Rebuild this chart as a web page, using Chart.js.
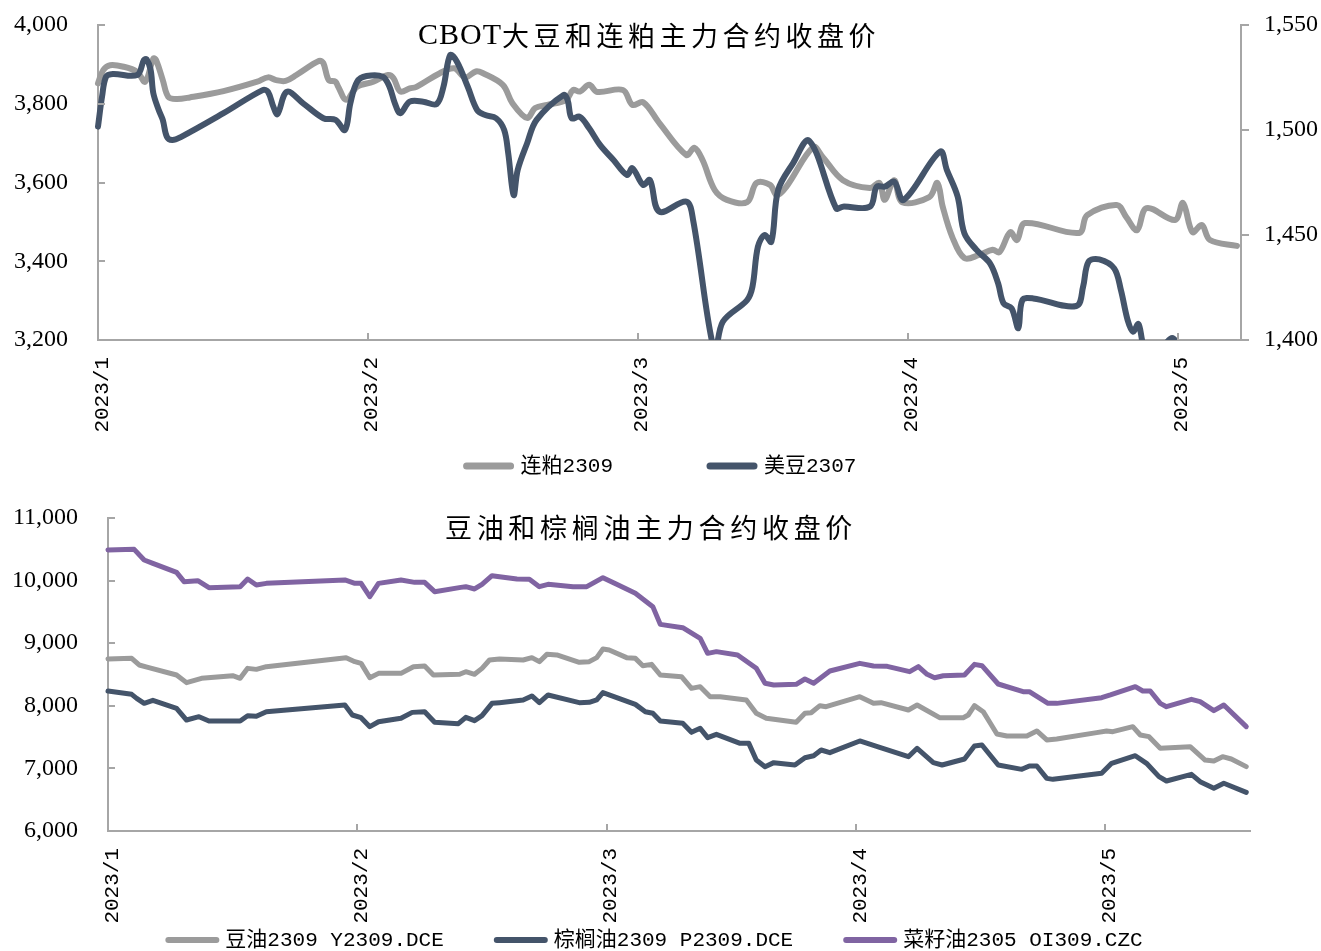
<!DOCTYPE html>
<html lang="zh-CN">
<head>
<meta charset="UTF-8">
<title>CBOT大豆和连粕、豆油和棕榈油主力合约收盘价</title>
<script src="https://cdn.jsdelivr.net/npm/chart.js"></script>
<style>
  html, body { margin: 0; padding: 0; background: #fff; overflow: hidden; }
  .wrap { position: absolute; left: 0; width: 1321px; }
  #top { top: 0; height: 490px; }
  #bottom { top: 490px; height: 471px; }
</style>
</head>
<body>
<div class="wrap" id="top"><canvas id="beanChart" width="1321" height="490"></canvas></div>
<div class="wrap" id="bottom"><canvas id="oilChart" width="1321" height="471"></canvas></div>

<script>
// x values are trading-day counts, one month tick every 20
const monthLabels = ['2023/1', '2023/2', '2023/3', '2023/4', '2023/5'];
const monthStep = 20;

// top chart: 连粕2309 (left axis)
const mealDays = [0, 0.4, 0.9, 1.9, 2.9, 3.5, 4.1, 4.3, 4.8, 5.2, 5.8, 6.8, 9.3, 11.8, 12.6, 13.2, 13.9, 14.7,
  16.4, 16.7, 17.1, 17.6, 17.8, 18.4, 19.2, 20.4, 21.5, 21.9, 22.4, 23.1, 23.6, 25.3, 26.4, 27.2, 28.0, 28.5,
  30.0, 30.7, 31.8, 32.4, 33.3, 34.7, 35.2, 35.7, 36.4, 37.0, 38.9, 39.6, 40.4, 41.6, 43.6, 44.2, 44.8, 45.7,
  46.6, 48.1, 48.8, 49.8, 50.3, 51.0, 53.0, 53.7, 55.2, 57.2, 57.9, 58.3, 59.0, 59.6, 61.6, 62.2, 62.6, 63.3,
  64.2, 65.3, 66.3, 66.8, 67.6, 68.1, 68.7, 72.7, 73.3, 75.5, 76.2, 77.0, 77.7, 79.8, 80.4, 81.1, 81.8, 82.4, 84.4];
const mealClose = [3852, 3886, 3898, 3894, 3881, 3856, 3915, 3911, 3860, 3818, 3812, 3816, 3832, 3856, 3867, 3860, 3858, 3873,
  3909, 3903, 3860, 3856, 3843, 3810, 3843, 3856, 3873, 3865, 3831, 3839, 3843, 3877, 3890, 3867, 3882, 3878,
  3848, 3802, 3764, 3789, 3797, 3810, 3835, 3831, 3848, 3830, 3835, 3797, 3804, 3751, 3670, 3688, 3657, 3581,
  3556, 3550, 3599, 3594, 3568, 3589, 3690, 3665, 3606, 3586, 3599, 3556, 3606, 3550, 3563, 3599, 3538, 3462,
  3408, 3416, 3429, 3423, 3474, 3454, 3497, 3472, 3517, 3543, 3512, 3479, 3535, 3505, 3548, 3474, 3492, 3454, 3439];

// top chart: 美豆2307 (right axis)
const soyDays = [0, 0.3, 0.6, 1.1, 2.9, 3.4, 3.6, 3.9, 4.1, 4.5, 4.8, 5.1, 5.5, 6.1, 9.3, 12.2, 12.6, 13.0, 13.3,
  14.0, 15.2, 16.7, 17.6, 18.3, 18.7, 19.2, 19.9, 21.1, 21.6, 22.0, 22.4, 23.1, 24.1, 25.1, 25.6, 26.1, 26.6,
  27.4, 28.1, 28.7, 29.5, 30.1, 30.4, 30.8, 31.1, 31.8, 32.5, 34.5, 34.8, 35.1, 35.7, 36.4, 37.2, 38.2, 39.2,
  39.6, 40.4, 40.9, 41.6, 43.6, 44.1, 45.7, 46.3, 48.1, 48.5, 48.9, 49.4, 49.9, 50.4, 51.5, 52.7, 54.7, 55.2,
  57.2, 57.7, 58.3, 59.0, 59.7, 62.4, 62.9, 63.7, 64.2, 65.1, 66.1, 66.7, 67.1, 67.7, 68.2, 68.5, 69.3, 72.5,
  73.0, 73.4, 74.2, 75.3, 75.8, 76.3, 76.7, 77.1, 77.5, 78.3, 79.1, 79.6, 80.0, 80.5];
const soyClose = [1501.6, 1515.9, 1525.4, 1526.7, 1526.2, 1533.3, 1533.7, 1528.6, 1517.5, 1509.5, 1504.8, 1496.8, 1495.2, 1496.5, 1508, 1519, 1518.2, 1511, 1507.6,
  1518.2, 1512.7, 1505.6, 1504.8, 1500, 1512.7, 1523, 1525.7, 1525.4, 1520.6, 1512.7, 1508, 1513.5, 1513.5, 1512.4, 1520.6, 1535.7, 1532.5,
  1520.6, 1509.5, 1507.1, 1505.6, 1500, 1488.9, 1469, 1481, 1493.7, 1504.8, 1516.7, 1514.3, 1505.6, 1506.3, 1500.8, 1492.9, 1485.7, 1478.6,
  1481.8, 1473.8, 1476.2, 1461.1, 1465.9, 1457.1, 1394, 1408.7, 1419, 1425.4, 1444.4, 1450, 1446.8, 1471.4, 1484.1, 1494.9, 1462.7, 1463.5,
  1463.5, 1473, 1473, 1475.4, 1466.7, 1489.7, 1481, 1468.3, 1450.8, 1442.9, 1436.5, 1427, 1417.5, 1415.1, 1405.6, 1419, 1419.8, 1416.2,
  1425.4, 1437.3, 1438.4, 1434.1, 1423.8, 1409.5, 1404, 1407.6, 1397, 1390, 1398, 1401, 1398, 1390];

// bottom chart: 豆油2309 Y2309.DCE
const soyOilDays = [0, 1.9, 2.5, 3.2, 5.5, 6.3, 7.5, 10.0, 10.6, 11.2, 11.9, 12.7, 19.1, 19.8, 20.3, 21.0, 21.7, 23.5,
  24.5, 25.4, 26.1, 28.2, 28.7, 29.4, 30.0, 30.6, 31.4, 33.3, 34.0, 34.6, 35.2, 36.0, 37.8, 38.6, 39.2, 39.7,
  40.2, 41.6, 42.3, 42.9, 43.6, 44.3, 46.0, 46.8, 47.5, 48.3, 49.1, 51.2, 52.0, 52.8, 55.2, 55.9, 56.4, 57.1,
  57.6, 60.3, 61.4, 62.0, 64.2, 64.9, 66.7, 68.6, 69.0, 69.5, 70.2, 70.7, 71.3, 72.1, 73.7, 74.5, 75.3, 76.1,
  79.3, 80.1, 80.6, 82.2, 82.8, 83.5, 84.4, 86.8, 88.0, 88.7, 89.4, 90.1, 91.3];
const soyOilClose = [8748, 8758, 8652, 8614, 8492, 8370, 8439, 8481, 8439, 8598, 8582, 8625, 8769, 8705, 8678, 8449, 8518, 8518,
  8625, 8636, 8492, 8503, 8545, 8503, 8598, 8732, 8748, 8732, 8769, 8705, 8822, 8812, 8694, 8705, 8769, 8907,
  8891, 8769, 8758, 8641, 8662, 8492, 8465, 8279, 8306, 8146, 8146, 8093, 7880, 7800, 7736, 7880, 7890, 8002,
  7986, 8146, 8039, 8050, 7933, 8013, 7810, 7810, 7853, 8002, 7906, 7746, 7550, 7518, 7518, 7598, 7454, 7470,
  7571, 7598, 7587, 7667, 7534, 7507, 7321, 7347, 7134, 7118, 7187, 7150, 7028];

// bottom chart: 棕榈油2309 P2309.DCE
const palmDays = [0, 1.9, 2.3, 2.9, 3.6, 5.5, 6.3, 7.3, 8.1, 10.6, 11.2, 11.9, 12.7, 19.0, 19.6, 20.3, 21.0, 21.7,
  23.5, 24.4, 25.4, 26.2, 28.1, 28.7, 29.4, 30.0, 30.8, 31.4, 33.3, 34.0, 34.6, 35.3, 37.8, 38.6, 39.2, 39.7,
  42.3, 43.1, 43.7, 44.3, 46.1, 46.8, 47.5, 48.1, 48.8, 50.7, 51.4, 52.0, 52.7, 53.4, 55.1, 55.9, 56.6, 57.2,
  57.9, 60.3, 61.9, 64.2, 64.9, 66.2, 66.9, 68.7, 69.5, 70.1, 71.4, 73.3, 73.9, 74.5, 75.3, 75.8, 79.7, 80.5,
  82.4, 83.3, 84.3, 84.9, 86.9, 87.6, 88.7, 89.5, 91.3];
const palmClose = [8236, 8183, 8119, 8039, 8087, 7960, 7773, 7826, 7757, 7757, 7842, 7832, 7906, 8013, 7853, 7810, 7667, 7746,
  7800, 7895, 7906, 7736, 7715, 7816, 7762, 7842, 8039, 8050, 8093, 8157, 8050, 8173, 8050, 8055, 8093, 8210,
  8023, 7906, 7880, 7757, 7720, 7576, 7640, 7491, 7544, 7400, 7400, 7134, 7028, 7092, 7054, 7171, 7203, 7294,
  7251, 7438, 7334, 7187, 7321, 7092, 7054, 7150, 7358, 7374, 7054, 6985, 7038, 7038, 6841, 6825, 6921, 7081,
  7203, 7081, 6868, 6799, 6905, 6788, 6682, 6762, 6618];

// bottom chart: 菜籽油2305 OI309.CZC
const rapeDays = [0, 2.1, 2.9, 3.6, 5.5, 6.1, 7.2, 8.1, 10.6, 11.2, 11.9, 12.7, 19.0, 19.8, 20.3, 21.0, 21.7, 23.5,
  24.6, 25.4, 26.2, 28.3, 28.7, 29.4, 30.0, 30.8, 31.4, 32.8, 33.8, 34.6, 35.3, 37.3, 38.4, 39.7, 40.8, 42.3,
  43.7, 44.3, 46.1, 47.5, 48.1, 48.8, 50.5, 52.0, 52.7, 53.4, 55.2, 55.9, 56.6, 57.9, 60.3, 61.4, 62.5, 64.3,
  65.0, 65.7, 66.3, 67.0, 68.7, 69.5, 70.1, 71.4, 73.4, 73.9, 75.4, 76.1, 79.7, 80.4, 82.4, 83.0, 83.6, 84.4,
  84.9, 86.9, 87.6, 88.7, 89.5, 91.3];
const rapeClose = [10489, 10499, 10329, 10276, 10132, 9983, 9999, 9887, 9903, 10026, 9930, 9956, 10010, 9956, 9956, 9743, 9956, 10010,
  9972, 9972, 9823, 9892, 9903, 9866, 9940, 10079, 10063, 10026, 10020, 9903, 9940, 9903, 9903, 10047, 9940, 9797,
  9584, 9301, 9248, 9078, 8838, 8865, 8811, 8599, 8359, 8332, 8343, 8428, 8359, 8556, 8678, 8636, 8630, 8545,
  8625, 8503, 8449, 8481, 8492, 8662, 8641, 8348, 8226, 8226, 8039, 8039, 8130, 8173, 8306, 8236, 8236, 8039,
  7986, 8103, 8066, 7922, 8013, 7667];

const axisGray = '#a6a6a6';
const serif = '"Liberation Serif", "Noto Sans CJK SC", serif';
const mono = '"Liberation Mono", "Noto Sans CJK SC", monospace';
const cjk = '"Noto Sans CJK SC", sans-serif';

const pts = (xs, ys) => xs.map((x, i) => ({ x: x, y: ys[i] }));

// title drawn over the plot area, made of pieces with their own font
const overTitle = {
  id: 'overTitle',
  afterDraw(chart, args, opts) {
    const ctx = chart.ctx;
    ctx.save();
    ctx.fillStyle = '#000';
    ctx.textBaseline = 'middle';
    ctx.textAlign = 'left';
    const widths = opts.parts.map(p => {
      ctx.font = p.font;
      ctx.letterSpacing = p.spacing;
      return ctx.measureText(p.text).width;
    });
    let x = opts.x - widths.reduce((a, b) => a + b, 0) / 2;
    opts.parts.forEach((p, i) => {
      ctx.font = p.font;
      ctx.letterSpacing = p.spacing;
      ctx.fillText(p.text, x, opts.y);
      x += widths[i];
    });
    ctx.restore();
  }
};

// legend with thick line symbols, placed where the original has it
const lineLegend = {
  id: 'lineLegend',
  afterDraw(chart, args, opts) {
    const ctx = chart.ctx;
    ctx.save();
    ctx.font = opts.font;
    ctx.textBaseline = 'middle';
    ctx.textAlign = 'left';
    const items = chart.data.datasets.map(d => ({ d: d, w: opts.symbol + opts.textGap + ctx.measureText(d.label).width }));
    const total = items.reduce((s, it) => s + it.w, 0) + opts.gap * (items.length - 1);
    let x = opts.x - total / 2;
    items.forEach(it => {
      ctx.strokeStyle = it.d.borderColor;
      ctx.lineWidth = it.d.borderWidth + 1;
      ctx.lineCap = 'round';
      ctx.beginPath();
      ctx.moveTo(x + 3, opts.y);
      ctx.lineTo(x + opts.symbol - 3, opts.y);
      ctx.stroke();
      ctx.fillStyle = '#000';
      ctx.fillText(it.d.label, x + opts.symbol + opts.textGap, opts.y);
      x += it.w + opts.gap;
    });
    ctx.restore();
  }
};

// small tick marks: inside for x and left axes, outside for right axis
const tickMarks = {
  id: 'tickMarks',
  afterDatasetsDraw(chart) {
    const { ctx, chartArea: a } = chart;
    ctx.save();
    ctx.strokeStyle = axisGray;
    ctx.lineWidth = 2;
    ctx.beginPath();
    Object.values(chart.scales).forEach(s => {
      s.ticks.forEach(t => {
        const p = Math.round(s.getPixelForValue(t.value));
        if (s.axis === 'x') { ctx.moveTo(p, a.bottom); ctx.lineTo(p, a.bottom - 7); }
        else if (s.position === 'left') { ctx.moveTo(a.left, p); ctx.lineTo(a.left + 7, p); }
        else { ctx.moveTo(a.right, p); ctx.lineTo(a.right + 8, p); }
      });
    });
    ctx.stroke();
    ctx.restore();
  }
};

function xAxis(max, height) {
  return {
    type: 'linear', min: 0, max: max,
    grid: { display: false, drawTicks: false },
    border: { color: axisGray, width: 2 },
    ticks: {
      stepSize: monthStep, includeBounds: false, autoSkip: false,
      minRotation: 90, maxRotation: 90, padding: 17, labelOffset: 4, color: '#000',
      font: { family: mono, size: 21 },
      callback: v => monthLabels[v / monthStep]
    },
    afterFit: s => { s.height = height; }
  };
}

function yAxis(pos, min, max, step, width, pad) {
  return {
    position: pos, min: min, max: max,
    grid: { display: false, drawTicks: false },
    border: { color: axisGray, width: 2 },
    ticks: {
      stepSize: step, padding: pad, color: '#000',
      font: { family: serif, size: 24 },
      callback: v => v.toLocaleString('en-US')
    },
    // keep the label padding from pushing the plot down
    afterFit: s => { s.width = width; s.paddingTop = 0; s.paddingBottom = 0; }
  };
}

function line(label, data, color, width, tension, yID, order) {
  return {
    label: label, data: data, yAxisID: yID, order: order,
    borderColor: color, backgroundColor: color, borderWidth: width,
    borderCapStyle: 'round', borderJoinStyle: 'round',
    tension: tension, pointRadius: 0, fill: false,
    clip: { left: 6, top: 6, right: 6, bottom: 0 }
  };
}

Chart.defaults.animation = false;

new Chart(document.getElementById('beanChart'), {
  type: 'line',
  data: {
    datasets: [
      line('连粕2309', pts(mealDays, mealClose), '#9b9b9b', 6, 0.35, 'y', 1),
      line('美豆2307', pts(soyDays, soyClose), '#44546a', 6, 0.35, 'y1', 0)
    ]
  },
  options: {
    responsive: false,
    layout: { padding: { top: 25, bottom: 0, left: 0, right: 0 } },
    scales: {
      x: xAxis(84.7, 150),
      y: yAxis('left', 3200, 4000, 200, 98, 30),
      y1: yAxis('right', 1400, 1550, 50, 80, 23)
    },
    plugins: {
      tooltip: { enabled: false },
      legend: { display: false },
      lineLegend: { x: 660, y: 466, symbol: 50, textGap: 7, gap: 94, font: '21px ' + mono },
      overTitle: {
        x: 649, y: 36,
        parts: [
          { text: 'CBOT', font: '30px "Liberation Serif", serif', spacing: '1px' },
          { text: '大豆和连粕主力合约收盘价', font: '27px ' + cjk, spacing: '4.5px' }
        ]
      }
    }
  },
  plugins: [overTitle, tickMarks, lineLegend]
});

new Chart(document.getElementById('oilChart'), {
  type: 'line',
  data: {
    datasets: [
      line('豆油2309 Y2309.DCE', pts(soyOilDays, soyOilClose), '#9b9b9b', 5, 0, 'y', 2),
      line('棕榈油2309 P2309.DCE', pts(palmDays, palmClose), '#44546a', 5, 0, 'y', 1),
      line('菜籽油2305 OI309.CZC', pts(rapeDays, rapeClose), '#8064a2', 5, 0, 'y', 0)
    ]
  },
  options: {
    responsive: false,
    layout: { padding: { top: 28, bottom: 0, left: 0, right: 71 } },
    scales: {
      x: xAxis(91.6, 130),
      y: yAxis('left', 6000, 11000, 1000, 108, 30)
    },
    plugins: {
      tooltip: { enabled: false },
      legend: { display: false },
      lineLegend: { x: 654, y: 450, symbol: 54, textGap: 6, gap: 50, font: '21px ' + mono },
      overTitle: {
        x: 651, y: 38,
        parts: [{ text: '豆油和棕榈油主力合约收盘价', font: '27px ' + cjk, spacing: '4.7px' }]
      }
    }
  },
  plugins: [overTitle, tickMarks, lineLegend]
});
</script>
</body>
</html>
